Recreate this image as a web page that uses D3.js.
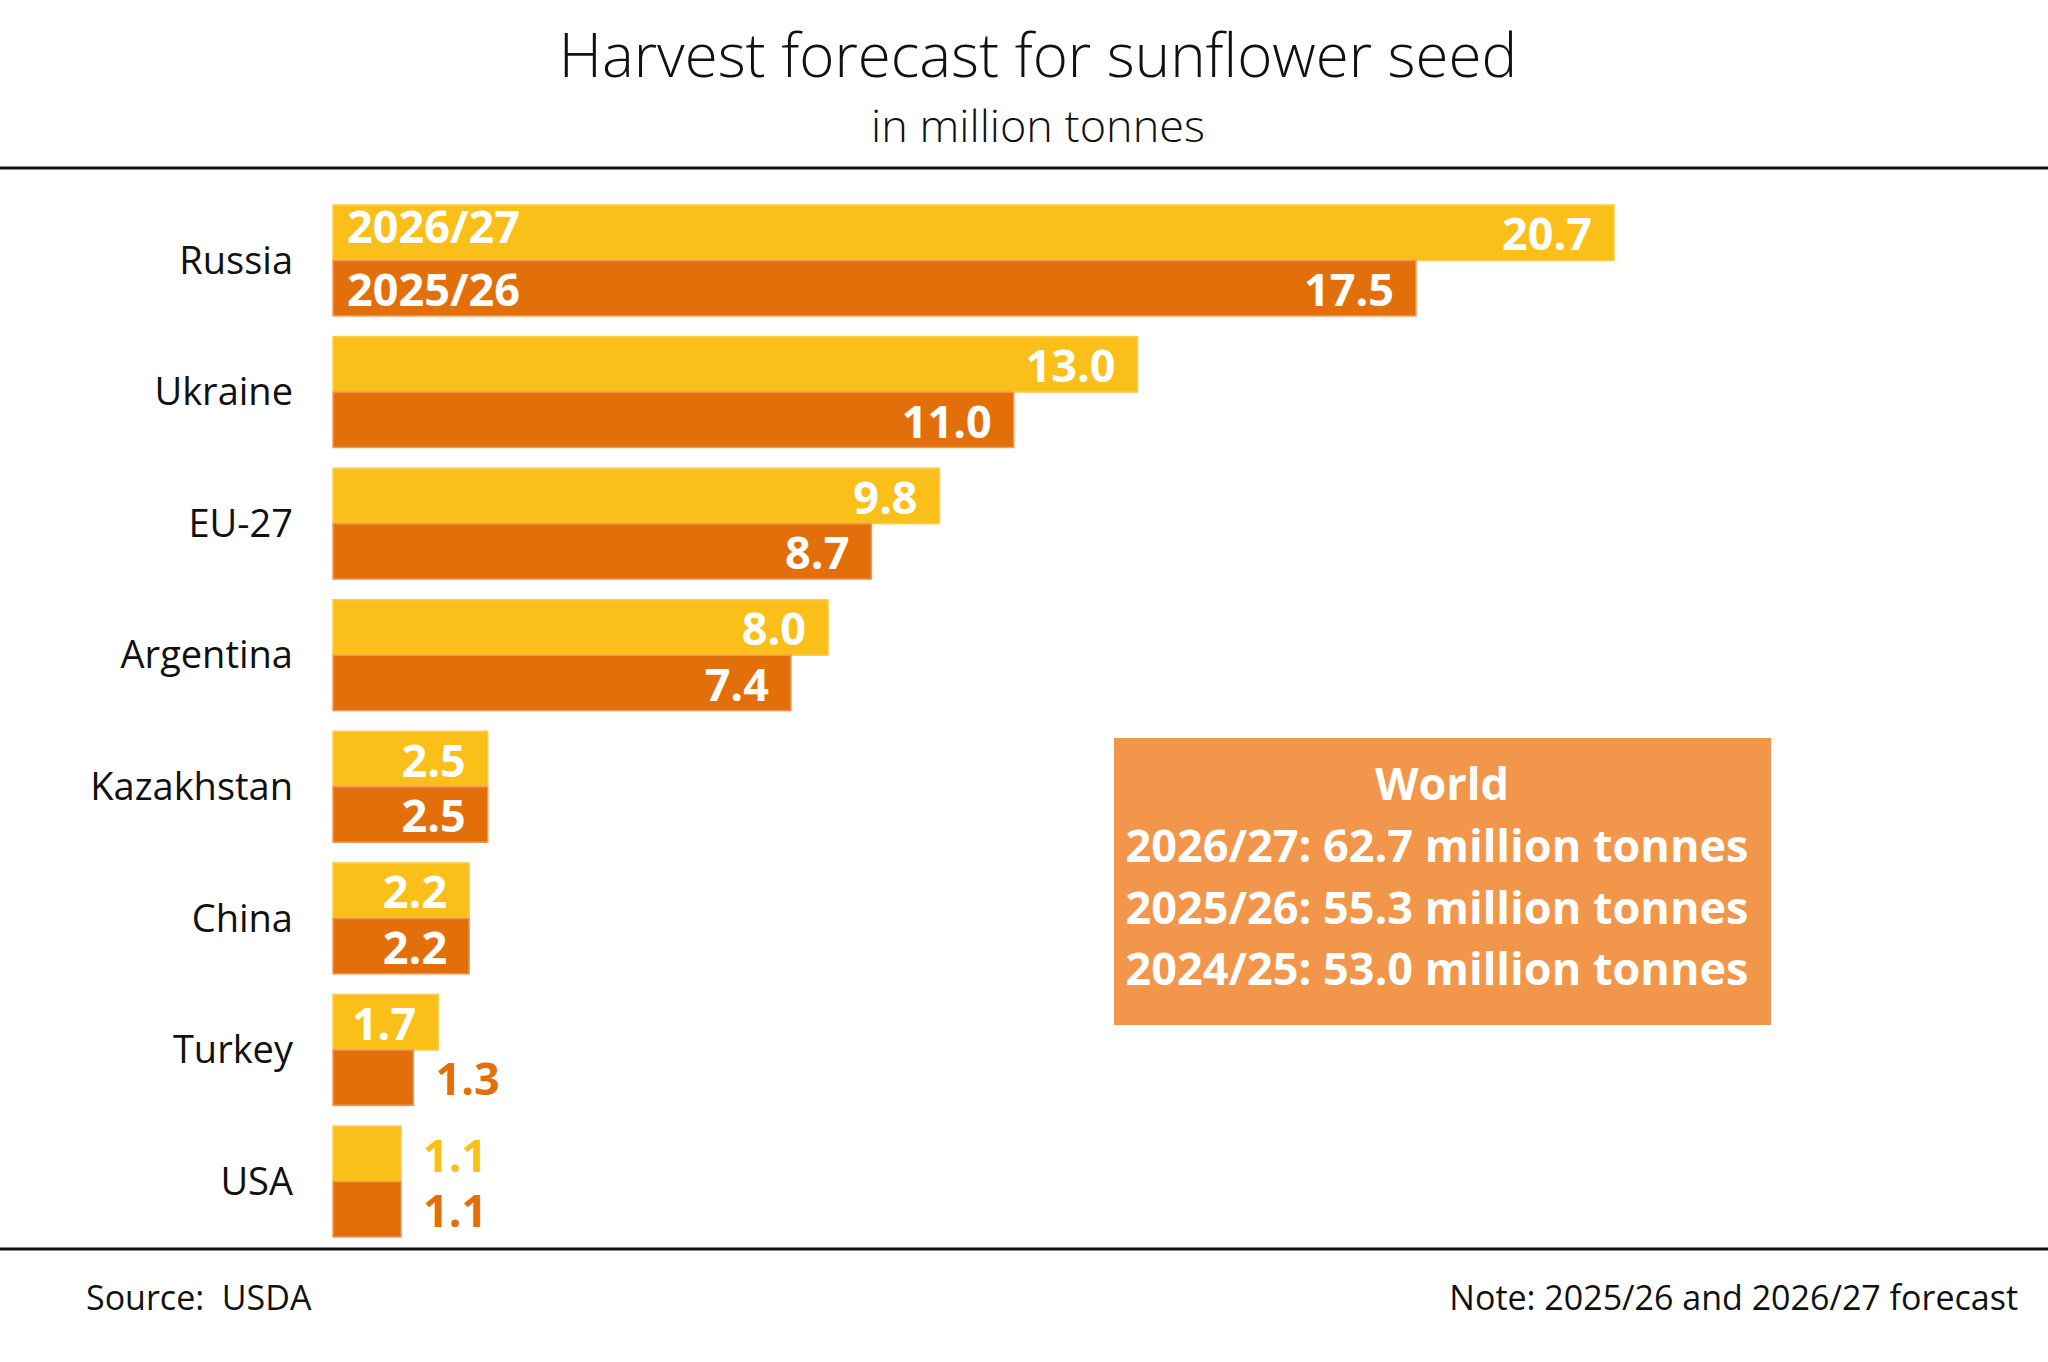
<!DOCTYPE html>
<html>
<head>
<meta charset="utf-8">
<script src="https://cdn.jsdelivr.net/npm/d3@7"></script>
<style>
    body { margin: 0; background: #fff; }
    svg { display: block; font-family: "Open Sans", "Noto Sans", sans-serif; }
</style>
</head>
<body>
<svg id="chart"></svg>
<script>
const countries = ["Russia", "Ukraine", "EU-27", "Argentina", "Kazakhstan", "China", "Turkey", "USA"];
const seasons = ["2026/27", "2025/26"];
const harvest2627 = [20.7, 13.0, 9.8, 8.0, 2.5, 2.2, 1.7, 1.1];
const harvest2526 = [17.5, 11.0, 8.7, 7.4, 2.5, 2.2, 1.3, 1.1];

const worldSeasons = ["2026/27", "2025/26", "2024/25"];
const worldTotals = [62.7, 55.3, 53.0];

const colors = { "2026/27": "#FBBF1A", "2025/26": "#E36F0B" };
const edges = { "2026/27": "#FCCB4C", "2025/26": "#F0995A" };

const width = 2048;
const height = 1362;

document.addEventListener('DOMContentLoaded', () => {
    const svg = d3.select('#chart')
        .attr('width', width)
        .attr('height', height);

    drawHeader(svg);
    drawBars(svg);
    drawWorldBox(svg);
    drawFooter(svg);
});

// Title, subtitle and the two rules
function drawHeader(svg) {
    svg.append('text')
        .attr('x', 1038).attr('y', 77)
        .attr('text-anchor', 'middle')
        .attr('font-size', 60).attr('font-weight', 300)
        .attr('fill', '#111')
        .text('Harvest forecast for sunflower seed');

    svg.append('text')
        .attr('x', 1038).attr('y', 142)
        .attr('text-anchor', 'middle')
        .attr('font-size', 45).attr('font-weight', 300)
        .attr('fill', '#111')
        .text('in million tonnes');

    [168, 1249].forEach(y => {
        svg.append('line')
            .attr('x1', 0).attr('x2', width)
            .attr('y1', y).attr('y2', y)
            .attr('stroke', '#111')
            .attr('stroke-width', 3);
    });
}

// Grouped horizontal bars
function drawBars(svg) {
    const x = d3.scaleLinear()
        .domain([0, 20.7])
        .range([333, 1614]);

    const y = d3.scaleBand()
        .domain(countries)
        .range([205, 1237])
        .paddingInner(0.157)
        .paddingOuter(0);

    const ySeason = d3.scaleBand()
        .domain(seasons)
        .range([0, y.bandwidth()]);

    const rows = countries.map((c, i) => ({
        country: c,
        values: [
            { season: "2026/27", value: harvest2627[i] },
            { season: "2025/26", value: harvest2526[i] }
        ]
    }));

    const groups = svg.selectAll('g.country')
        .data(rows)
        .enter().append('g')
        .attr('class', 'country')
        .attr('transform', d => `translate(0,${y(d.country)})`);

    // Country names
    groups.append('text')
        .attr('x', 293)
        .attr('y', y.bandwidth() / 2)
        .attr('dy', '0.35em')
        .attr('text-anchor', 'end')
        .attr('font-size', 38)
        .attr('fill', '#111')
        .text(d => d.country);

    const bars = groups.selectAll('g.bar')
        .data(d => d.values)
        .enter().append('g')
        .attr('class', 'bar')
        .attr('transform', d => `translate(0,${ySeason(d.season)})`);

    bars.append('rect')
        .attr('x', x(0))
        .attr('y', 0)
        .attr('width', d => x(d.value) - x(0))
        .attr('height', ySeason.bandwidth())
        .attr('fill', d => colors[d.season])
        .attr('stroke', d => edges[d.season])
        .attr('stroke-width', 1.5);

    // Value labels: inside the bar when it is long enough, otherwise beside it
    bars.append('text')
        .attr('x', d => d.value >= 1.5 ? x(d.value) - 22 : x(d.value) + 22)
        .attr('y', ySeason.bandwidth() - 10)
        .attr('text-anchor', d => d.value >= 1.5 ? 'end' : 'start')
        .attr('font-size', 45)
        .attr('font-weight', 700)
        .attr('fill', d => d.value >= 1.5 ? '#fff' : colors[d.season])
        .text(d => d3.format('.1f')(d.value));

    // Season names inside the first bar pair
    groups.filter((d, i) => i === 0)
        .selectAll('text.season')
        .data(seasons)
        .enter().append('text')
        .attr('class', 'season')
        .attr('x', x(0) + 14)
        .attr('y', s => ySeason(s) + ySeason.bandwidth() - (s === "2026/27" ? 17 : 10))
        .attr('font-size', 45)
        .attr('font-weight', 700)
        .attr('fill', '#fff')
        .text(s => s);
}

// World totals box
function drawWorldBox(svg) {
    const box = svg.append('g');

    box.append('rect')
        .attr('x', 1114).attr('y', 738)
        .attr('width', 657).attr('height', 287)
        .attr('fill', '#F1964A');

    box.append('text')
        .attr('x', 1442).attr('y', 800)
        .attr('text-anchor', 'middle')
        .attr('font-size', 45).attr('font-weight', 700)
        .attr('fill', '#fff')
        .text('World');

    box.selectAll('text.total')
        .data(worldSeasons)
        .enter().append('text')
        .attr('class', 'total')
        .attr('x', 1437)
        .attr('y', (d, i) => 862 + i * 61.5)
        .attr('text-anchor', 'middle')
        .attr('font-size', 45).attr('font-weight', 700)
        .attr('fill', '#fff')
        .text((d, i) => `${d}: ${d3.format('.1f')(worldTotals[i])} million tonnes`);
}

// Source and note
function drawFooter(svg) {
    svg.append('text')
        .attr('x', 86).attr('y', 1310)
        .attr('font-size', 34)
        .attr('fill', '#111')
        .attr('xml:space', 'preserve')
        .style('white-space', 'pre')
        .text('Source:  USDA');

    svg.append('text')
        .attr('x', 2018).attr('y', 1310)
        .attr('text-anchor', 'end')
        .attr('font-size', 34)
        .attr('fill', '#111')
        .text('Note: 2025/26 and 2026/27 forecast');
}
</script>
</body>
</html>
